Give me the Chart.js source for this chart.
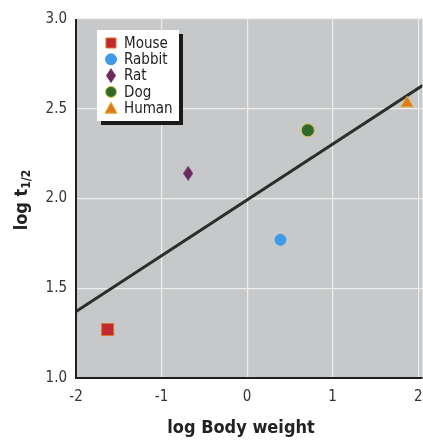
<!DOCTYPE html>
<html>
<head>
<meta charset="utf-8">
<script src="https://cdn.jsdelivr.net/npm/chart.js@4"></script>
<style>
  html, body { margin: 0; padding: 0; background: #fff; overflow: hidden; }
  #wrap { width: 423px; height: 443px; position: relative; overflow: hidden; }
  canvas { display: block; }
</style>
</head>
<body>
<div id="wrap"><canvas id="c" width="432" height="443"></canvas></div>
<script>
// ── 資料 ────────────────────────────────────────────────
const species = ["Mouse", "Rabbit", "Rat", "Dog", "Human"];
const logWeight = [-1.63, 0.39, -0.69, 0.71, 1.87];
const logHalfLife = [1.27, 1.77, 2.14, 2.38, 2.53];

// 迴歸線兩端
const fitX = [-2, 2.05];
const fitY = [1.37, 2.63];

const xTicks = [-2, -1, 0, 1, 2];
const yTicks = [1.0, 1.5, 2.0, 2.5, 3.0];

// ── 樣式 ────────────────────────────────────────────────
const FONT = "'DejaVu Sans Condensed', 'Liberation Sans Narrow', sans-serif";
const markers = [
  { style: "rect",     color: "#c3272f", border: "#d9762a", radius: 8.5 },
  { style: "circle",   color: "#3d9be9", border: "#3d9be9", radius: 5.5 },
  { style: "diamond",  color: "#6a2a5c", border: "#6a2a5c", radius: 7 },
  { style: "circle",   color: "#2f6a2c", border: "#d8c23a", radius: 6.5 },
  { style: "triangle", color: "#e0781e", border: "#d8b030", radius: 7 },
];

// 菱形（老鼠）用小 canvas 畫成直長形
function diamondImg(color) {
  const cv = document.createElement("canvas");
  cv.width = 10; cv.height = 15;
  const g = cv.getContext("2d");
  g.fillStyle = color;
  g.beginPath();
  g.moveTo(5, 0); g.lineTo(10, 7.5); g.lineTo(5, 15); g.lineTo(0, 7.5);
  g.closePath(); g.fill();
  return cv;
}

function pointStyleOf(m) {
  return m.style === "diamond" ? diamondImg(m.color) : m.style;
}

const datasets = species.map((name, i) => ({
  label: name,
  data: [{ x: logWeight[i], y: logHalfLife[i] }],
  pointStyle: pointStyleOf(markers[i]),
  pointRadius: markers[i].radius,
  backgroundColor: markers[i].color,
  borderColor: markers[i].border,
  borderWidth: 1,
  showLine: false,
}));

datasets.push({
  label: "fit",
  type: "line",
  data: fitX.map((x, i) => ({ x, y: fitY[i] })),
  borderColor: "#2b2f2c",
  borderWidth: 3,
  pointRadius: 0,
  fill: false,
  order: 10,
});

// ── 外掛：背景、圖例、軸標題 ─────────────────────────────
const plotBg = {
  id: "plotBg",
  beforeDraw(chart) {
    const { ctx, chartArea: a } = chart;
    ctx.save();
    ctx.fillStyle = "#c6c8ca";
    ctx.fillRect(a.left, a.top, a.right - a.left, a.bottom - a.top);
    ctx.restore();
  },
  afterDatasetsDraw(chart) {
    const { ctx, chartArea: a } = chart;
    ctx.save();
    // 左、下軸線
    ctx.strokeStyle = "#1e201e";
    ctx.lineWidth = 2;
    ctx.beginPath();
    ctx.moveTo(a.left, a.top);
    ctx.lineTo(a.left, a.bottom);
    ctx.lineTo(a.right, a.bottom);
    ctx.stroke();

    // 圖例框（含黑色陰影）
    const bx = 97, by = 30, bw = 82, bh = 91;
    ctx.fillStyle = "#1a1a1a";
    ctx.fillRect(bx + 4, by + 4, bw, bh);
    ctx.fillStyle = "#ffffff";
    ctx.fillRect(bx, by, bw, bh);

    ctx.font = `15px ${FONT}`;
    ctx.textBaseline = "middle";
    species.forEach((name, i) => {
      const y = by + 13 + i * 16.3;
      const m = markers[i];
      ctx.fillStyle = m.color;
      ctx.strokeStyle = m.border;
      ctx.lineWidth = 1;
      if (m.style === "diamond") {
        ctx.drawImage(pointStyleOf(m), 106, y - 7.5);
      } else {
        ctx.beginPath();
        if (m.style === "rect") {
          ctx.rect(106, y - 5, 10, 10);
        } else if (m.style === "circle") {
          ctx.arc(111, y, 5.5, 0, Math.PI * 2);
        } else {
          ctx.moveTo(111, y - 6); ctx.lineTo(117, y + 5); ctx.lineTo(105, y + 5);
          ctx.closePath();
        }
        ctx.fill();
        ctx.stroke();
      }
      ctx.fillStyle = "#222";
      ctx.fillText(name, 124, y + 1);
    });

    // X 軸標題
    ctx.font = `bold 18px ${FONT}`;
    ctx.textAlign = "center";
    ctx.textBaseline = "middle";
    ctx.fillStyle = "#222";
    ctx.fillText("log Body weight", 241, 428);

    // Y 軸標題（含下標）
    ctx.translate(22, 200);
    ctx.rotate(-Math.PI / 2);
    ctx.textAlign = "left";
    const main = "log t";
    ctx.font = `bold 18px ${FONT}`;
    const w1 = ctx.measureText(main).width;
    ctx.font = `bold 12px ${FONT}`;
    const w2 = ctx.measureText("1/2").width;
    const x0 = -(w1 + w2) / 2;
    ctx.font = `bold 18px ${FONT}`;
    ctx.fillText(main, x0, 0);
    ctx.font = `bold 12px ${FONT}`;
    ctx.fillText("1/2", x0 + w1, 5);
    ctx.restore();
  },
};

// ── 圖表 ────────────────────────────────────────────────
new Chart(document.getElementById("c"), {
  type: "scatter",
  data: { datasets },
  options: {
    responsive: false,
    animation: false,
    layout: { padding: { top: 19, right: 1, left: 0, bottom: 0 } },
    plugins: { legend: { display: false }, tooltip: { enabled: false } },
    scales: {
      x: {
        type: "linear",
        min: -2,
        max: 2.05,
        afterBuildTicks(s) { s.ticks = xTicks.map(v => ({ value: v })); },
        afterFit(s) { s.height = 65; },
        grid: {
          color: "#eeeeee", lineWidth: 1.2,
          drawTicks: true, tickLength: 10, tickColor: "rgba(0,0,0,0)",
        },
        border: { display: false },
        ticks: {
          color: "#333",
          font: { family: FONT, size: 15 },
          padding: 0,
          callback: v => String(v),
        },
      },
      y: {
        min: 1,
        max: 3,
        afterBuildTicks(s) { s.ticks = yTicks.map(v => ({ value: v })); },
        afterFit(s) { s.width = 76; },
        grid: {
          color: "#eeeeee", lineWidth: 1.2,
          drawTicks: true, tickLength: 9, tickColor: "rgba(0,0,0,0)",
        },
        border: { display: false },
        ticks: {
          color: "#333",
          font: { family: FONT, size: 15 },
          padding: 0,
          callback: v => v.toFixed(1),
        },
      },
    },
  },
  plugins: [plotBg],
});
</script>
</body>
</html>
